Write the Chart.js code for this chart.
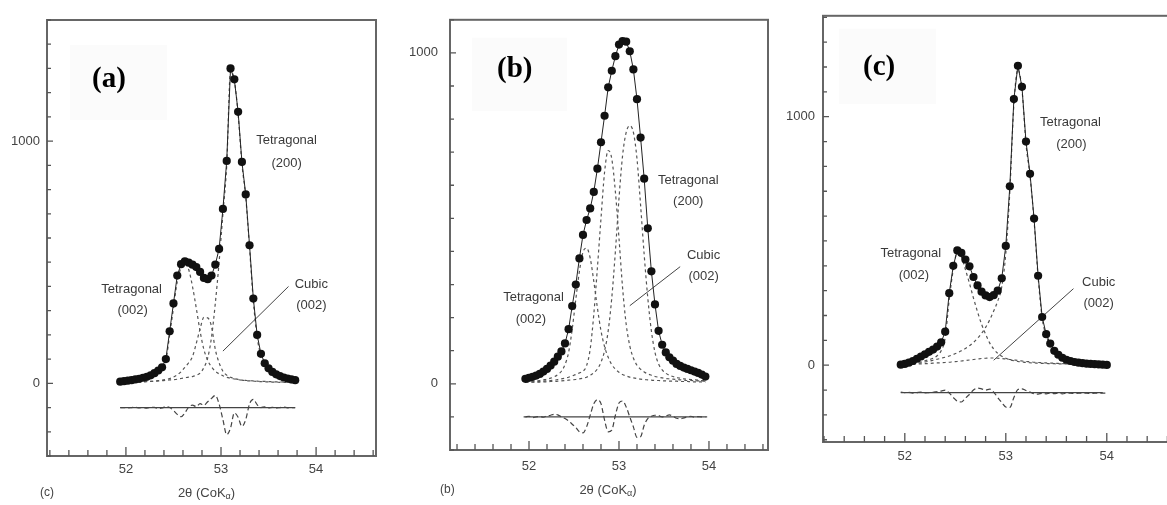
<!DOCTYPE html>
<html>
<head>
<meta charset="utf-8">
<script src="https://cdn.jsdelivr.net/npm/chart.js@4.4.1/dist/chart.umd.min.js"></script>
<style>
  body { margin: 0; background: #fff; width: 1167px; height: 505px; overflow: hidden; position: relative; }
  canvas { position: absolute; top: 0; }
</style>
</head>
<body>
<canvas id="panelA" width="390" height="505" style="left:0"></canvas>
<canvas id="panelB" width="390" height="505" style="left:390px"></canvas>
<canvas id="panelC" width="400" height="505" style="left:780px"></canvas>
<script>
// ---- panel (a) ----
var xA = [51.94,51.98,52.02,52.06,52.10,52.14,52.18,52.22,52.26,52.30,52.34,52.38,52.42,52.46,52.50,52.54,52.58,52.62,52.66,52.70,52.74,52.78,52.82,52.86,52.90,52.94,52.98,53.02,53.06,53.10,53.14,53.18,53.22,53.26,53.30,53.34,53.38,53.42,53.46,53.50,53.54,53.58,53.62,53.66,53.70,53.74,53.78];
var obsA = [7,9,11,13,16,19,23,27,33,42,53,66,100,215,330,445,492,504,498,490,480,460,435,430,445,490,555,720,918,1300,1255,1121,914,780,570,350,200,122,83,62,47,37,30,24,20,16,13];
var t002A = [5,6,7,8,10,12,15,18,23,30,40,58,92,200,310,420,478,495,470,400,310,215,140,95,68,50,39,31,25,21,18,15,13,12,11,10,9,8,8,7,7,6,6,5,5,5,4];
var cubA = [3,3,4,4,5,5,6,7,8,9,11,13,16,20,26,35,48,66,85,110,165,225,272,270,235,140,85,50,34,25,20,16,13,11,10,9,8,7,6,6,5,5,4,4,4,3,3];
var t200A = [4,4,5,5,6,6,7,8,8,9,10,11,12,14,15,17,20,23,26,28,33,42,65,105,190,330,500,700,900,1290,1250,1110,905,770,560,340,190,115,76,56,42,33,26,21,17,14,12];
var resA = [-100,-100,-101,-100,-99,-101,-100,-102,-100,-99,-104,-102,-96,-100,-112,-128,-138,-122,-98,-90,-96,-84,-90,-76,-62,-50,-85,-150,-212,-185,-122,-140,-178,-150,-85,-66,-88,-100,-97,-101,-99,-102,-100,-98,-101,-100,-100];
var baseXA = [51.94, 53.78], baseYA = [-100, -100];
var leadXA = [53.71, 53.02], leadYA = [400, 133];

// ---- panel (b) ----
var xB = [51.96,52.00,52.04,52.08,52.12,52.16,52.20,52.24,52.28,52.32,52.36,52.40,52.44,52.48,52.52,52.56,52.60,52.64,52.68,52.72,52.76,52.80,52.84,52.88,52.92,52.96,53.00,53.04,53.08,53.12,53.16,53.20,53.24,53.28,53.32,53.36,53.40,53.44,53.48,53.52,53.56,53.60,53.64,53.68,53.72,53.76,53.80,53.84,53.88,53.92,53.96];
var obsB = [15,18,21,25,30,37,45,55,67,82,98,122,165,235,300,379,450,495,530,580,650,730,810,896,946,990,1025,1036,1034,1005,950,860,744,620,470,340,240,160,118,95,80,70,60,54,49,45,41,37,33,28,22];
var t002B = [6,7,8,9,10,12,14,17,21,28,38,58,95,165,255,340,398,410,380,310,230,160,112,80,58,44,35,28,24,20,18,16,14,13,12,11,10,10,9,9,8,8,8,7,7,7,6,6,6,6,5];
var cubB = [5,5,6,6,7,8,9,10,11,13,15,17,20,24,28,33,38,55,105,210,350,500,640,705,680,580,440,290,180,115,78,56,44,36,30,26,22,20,18,16,15,14,13,12,11,10,10,9,9,8,8];
var t200B = [4,4,5,5,5,6,6,7,7,8,9,10,11,12,13,15,17,20,26,33,45,65,100,160,260,400,560,690,760,780,760,680,540,390,260,160,95,60,42,32,26,22,19,17,15,14,13,12,11,10,10];
var resB = [-100,-98,-102,-100,-99,-101,-97,-95,-92,-94,-100,-105,-112,-122,-132,-145,-148,-130,-95,-60,-48,-60,-110,-145,-140,-95,-58,-52,-70,-100,-130,-162,-160,-125,-105,-98,-95,-96,-100,-97,-94,-98,-104,-106,-103,-100,-98,-101,-99,-100,-100];
var baseXB = [51.94, 53.98], baseYB = [-100, -100];
var leadXB = [53.68, 53.12], leadYB = [354, 236];

// ---- panel (c) ----
var xC = [51.96,52.00,52.04,52.08,52.12,52.16,52.20,52.24,52.28,52.32,52.36,52.40,52.44,52.48,52.52,52.56,52.60,52.64,52.68,52.72,52.76,52.80,52.84,52.88,52.92,52.96,53.00,53.04,53.08,53.12,53.16,53.20,53.24,53.28,53.32,53.36,53.40,53.44,53.48,53.52,53.56,53.60,53.64,53.68,53.72,53.76,53.80,53.84,53.88,53.92,53.96,54.00];
var obsC = [2,5,10,17,26,35,44,54,63,75,92,135,290,400,462,452,425,398,355,321,296,281,274,282,300,350,480,720,1071,1205,1120,900,770,590,360,194,125,87,58,42,30,22,17,13,10,8,6,5,4,3,2,1];
var t002C = [2,3,5,8,11,14,18,22,28,38,58,110,265,385,455,435,385,330,270,215,165,125,90,65,48,36,28,22,18,15,13,11,10,9,8,7,7,6,6,5,5,5,4,4,4,3,3,3,3,2,2,2];
var cubC = [3,3,4,4,5,5,6,7,8,9,10,11,12,14,15,17,19,21,23,25,27,28,29,29,28,27,25,23,21,19,17,15,14,12,11,10,9,8,8,7,6,6,5,5,5,4,4,4,3,3,3,3];
var t200C = [3,4,5,6,8,10,13,16,20,24,28,32,37,43,50,58,67,78,92,108,128,152,182,218,258,315,450,700,1050,1190,1110,890,760,580,355,190,120,82,55,40,30,23,18,14,11,9,7,6,5,4,3,3];
var resC = [-108,-110,-109,-112,-110,-108,-111,-110,-109,-106,-104,-100,-112,-130,-145,-148,-132,-118,-100,-92,-95,-100,-96,-108,-130,-150,-168,-170,-130,-98,-95,-102,-108,-115,-116,-113,-115,-112,-114,-112,-115,-113,-112,-114,-112,-113,-112,-114,-112,-113,-112,-112];
var baseXC = [51.96, 53.96], baseYC = [-110, -110];
var leadXC = [53.67, 52.88], leadYC = [308, 20];

// peak labels (text, x, y in data units)
var notesA = [['Tetragonal', 53.69, 1004], ['(200)', 53.69, 909], ['Tetragonal', 52.06, 387], ['(002)', 52.07, 300], ['Cubic', 53.95, 407], ['(002)', 53.95, 321]];
var notesB = [['Tetragonal', 53.77, 615], ['(200)', 53.77, 551], ['Tetragonal', 52.05, 260], ['(002)', 52.02, 196], ['Cubic', 53.94, 388], ['(002)', 53.94, 325]];
var notesC = [['Tetragonal', 53.64, 977], ['(200)', 53.65, 890], ['Tetragonal', 52.06, 449], ['(002)', 52.09, 361], ['Cubic', 53.92, 335], ['(002)', 53.92, 248]];

Chart.defaults.font.family = '"Liberation Sans", Arial, sans-serif';
Chart.defaults.font.size = 13;
Chart.defaults.color = '#444';

function pts(xs, ys) {
  return xs.map(function(x, i) { return { x: x, y: ys[i] }; });
}

function isWhole(v) { return Math.abs(v - Math.round(v)) < 1e-6; }

// frame, inward ticks, labels and the bits of text round the plot
function makeDecor(p) {
  return {
    id: 'panelDecor',
    beforeDatasetsDraw: function(chart) {
      var a = chart.chartArea, ctx = chart.ctx;
      ctx.save();
      ctx.fillStyle = '#fbfbfb';
      ctx.fillRect(a.left + p.box[0], a.top + p.box[1], p.box[2], p.box[3]);
      ctx.restore();
    },
    afterDraw: function(chart) {
      var a = chart.chartArea, ctx = chart.ctx;
      var xs = chart.scales.x, ys = chart.scales.y;
      ctx.save();
      ctx.strokeStyle = '#666';
      ctx.lineWidth = 2;
      ctx.strokeRect(a.left, a.top, a.right - a.left, a.bottom - a.top);

      ctx.lineWidth = 1.3;
      ctx.strokeStyle = '#555';
      ctx.beginPath();
      ys.ticks.forEach(function(t) {
        var py = ys.getPixelForValue(t.value);
        var len = (t.value % 1000 === 0) ? 6 : 4;
        ctx.moveTo(a.left, py);
        ctx.lineTo(a.left + len, py);
      });
      xs.ticks.forEach(function(t) {
        var px = xs.getPixelForValue(t.value);
        var len = isWhole(t.value) ? 9 : 6;
        ctx.moveTo(px, a.bottom);
        ctx.lineTo(px, a.bottom - len);
      });
      ctx.stroke();

      // peak labels
      ctx.fillStyle = '#3a3a3a';
      ctx.font = '13px "Liberation Sans", Arial, sans-serif';
      ctx.textAlign = 'center';
      ctx.textBaseline = 'middle';
      p.notes.forEach(function(n) {
        ctx.fillText(n[0], xs.getPixelForValue(n[1]), ys.getPixelForValue(n[2]));
      });

      // panel tag
      ctx.fillStyle = '#000';
      ctx.font = 'bold 29px "Liberation Serif", "Times New Roman", serif';
      ctx.textAlign = 'left';
      ctx.fillText(p.tag, a.left + p.tagPos[0], a.top + p.tagPos[1]);

      // original figure letter and x title
      if (p.sub) {
        var ty = a.bottom + p.sub[1];
        ctx.fillStyle = '#444';
        ctx.font = '12px "Liberation Sans", Arial, sans-serif';
        ctx.textAlign = 'left';
        ctx.fillText(p.sub[0], a.left + p.sub[2], ty);

        var big = '13px "Liberation Sans", Arial, sans-serif';
        var small = '9px "Liberation Sans", Arial, sans-serif';
        var s1 = '2\u03b8 (CoK', s2 = '\u03b1', s3 = ')';
        ctx.font = big; var w1 = ctx.measureText(s1).width, w3 = ctx.measureText(s3).width;
        ctx.font = small; var w2 = ctx.measureText(s2).width;
        var cx = (a.left + a.right) / 2 + p.sub[3];
        var x0 = cx - (w1 + w2 + w3) / 2;
        ctx.font = big; ctx.fillText(s1, x0, ty);
        ctx.font = small; ctx.fillText(s2, x0 + w1, ty + 4);
        ctx.font = big; ctx.fillText(s3, x0 + w1 + w2, ty);
      }
      ctx.restore();
    }
  };
}

function buildPanel(id, p) {
  var dashed = function(ys) {
    return { data: pts(p.x, ys), showLine: true, pointRadius: 0, borderColor: '#555',
             borderWidth: 1.2, borderDash: [3, 3], cubicInterpolationMode: 'monotone' };
  };
  var datasets = [
    { data: pts(p.x, p.obs), showLine: true, borderColor: '#222', borderWidth: 1,
      pointRadius: 4.1, pointBackgroundColor: '#111', pointBorderWidth: 0 },
    dashed(p.t200),
    dashed(p.cub),
    dashed(p.t002),
    { data: pts(p.x, p.res), showLine: true, pointRadius: 0, borderColor: '#444',
      borderWidth: 1.2, borderDash: [5, 3], cubicInterpolationMode: 'monotone' },
    { data: pts(p.baseX, p.baseY), showLine: true, pointRadius: 0, borderColor: '#444', borderWidth: 1.3 },
    { data: pts(p.leadX, p.leadY), showLine: true, pointRadius: 0, borderColor: '#444', borderWidth: 1 }
  ];

  return new Chart(document.getElementById(id), {
    type: 'scatter',
    data: { datasets: datasets },
    options: {
      responsive: false,
      animation: false,
      layout: { padding: { top: p.top, right: p.right, bottom: 0, left: 0 } },
      plugins: { legend: { display: false }, tooltip: { enabled: false } },
      scales: {
        x: {
          type: 'linear', min: p.xMin, max: p.xMax,
          grid: { display: false, drawTicks: false }, border: { display: false },
          ticks: {
            stepSize: 0.2, includeBounds: false, autoSkip: false, maxRotation: 0,
            padding: p.xPad, color: '#444',
            callback: function(v) { return isWhole(v) ? String(Math.round(v)) : ''; }
          },
          afterFit: function(s) { s.height = p.xH; }
        },
        y: {
          min: p.yMin, max: p.yMax,
          grid: { display: false, drawTicks: false }, border: { display: false },
          ticks: {
            stepSize: 100, includeBounds: false, autoSkip: false, padding: p.yPad, color: '#444',
            callback: function(v) { return (v === 0 || v === 1000) ? String(v) : ''; }
          },
          afterFit: function(s) { s.width = p.yW; }
        }
      }
    },
    plugins: [makeDecor(p)]
  });
}

buildPanel('panelA', {
  x: xA, obs: obsA, t002: t002A, cub: cubA, t200: t200A, res: resA,
  baseX: baseXA, baseY: baseYA, leadX: leadXA, leadY: leadYA, notes: notesA,
  xMin: 51.17, xMax: 54.63, yMin: -300, yMax: 1500,
  top: 20, right: 14, yW: 47, xH: 49, xPad: 6, yPad: 7,
  tag: '(a)', tagPos: [45, 60], box: [23, 25, 97, 75],
  sub: ['(c)', 37, -7, -5]
});

buildPanel('panelB', {
  x: xB, obs: obsB, t002: t002B, cub: cubB, t200: t200B, res: resB,
  baseX: baseXB, baseY: baseYB, leadX: leadXB, leadY: leadYB, notes: notesB,
  xMin: 51.122, xMax: 54.656, yMin: -200, yMax: 1100,
  top: 12, right: 12, yW: 60, xH: 55, xPad: 9, yPad: 12,
  tag: '(b)', tagPos: [47, 50], box: [22, 18, 95, 73],
  sub: ['(b)', 40, -10, -1]
});

buildPanel('panelC', {
  x: xC, obs: obsC, t002: t002C, cub: cubC, t200: t200C, res: resC,
  baseX: baseXC, baseY: baseYC, leadX: leadXC, leadY: leadYC, notes: notesC,
  xMin: 51.19, xMax: 54.616, yMin: -309, yMax: 1406,
  top: 15, right: 11, yW: 43, xH: 63, xPad: 7, yPad: 8,
  tag: '(c)', tagPos: [40, 52], box: [16, 13, 97, 75],
  sub: null
});
</script>
</body>
</html>
